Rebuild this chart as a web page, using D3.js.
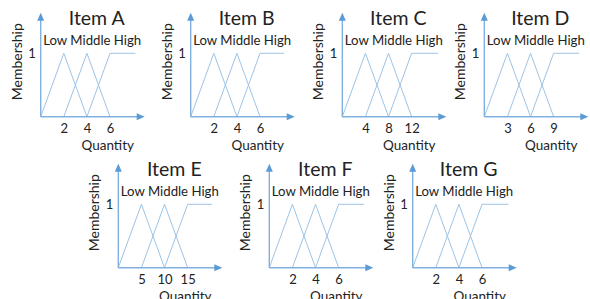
<!DOCTYPE html>
<html>
<head>
<meta charset="utf-8">
<script src="https://cdn.jsdelivr.net/npm/d3@7"></script>
<style>
    body { margin: 0; background: #fff; }
    text { font-family: Lato, "Open Sans", sans-serif; fill: #222; }
</style>
</head>
<body>
<svg id="chart" width="590" height="299"></svg>
<script>
// Chart data
const items        = ["Item A", "Item B", "Item C", "Item D", "Item E", "Item F", "Item G"];
const tickValues   = [[2, 4, 6], [2, 4, 6], [4, 8, 12], [3, 6, 9], [5, 10, 15], [2, 4, 6], [2, 4, 6]];
const plateauEnd   = [8.2, 8.1, 16.6, 12.3, 20.3, 8.2, 8.3];
const axisMax      = [9, 9, 18, 13.5, 22.5, 9, 9];
const levels       = ["Low", "Middle", "High"];
const yTickValues  = [1];
const yMax         = 1.64;

// Panel origins (where the two axes meet)
const origins = [
    [40.7, 116.7], [190.7, 116.7], [342.3, 116.7], [484.3, 116.7],
    [118.3, 267.7], [269.3, 267.7], [412.7, 267.7]
];

const axisColor  = "#80b1e0";
const arrowColor = "#5b9bd5";
const lineColor  = "#9dc3e6";

const svg = d3.select("#chart");

/**
 * Builds the membership polygons of the three levels.
 *
 * @param {Number[]} t   The three tick values
 * @param {Number}   end The end of the high plateau
 */
function memberships(t, end)
{
    return [
        [[0, 0], [t[0], 1], [t[1], 0]],
        [[t[0], 0], [t[1], 1], [t[2], 0]],
        [[t[1], 0], [t[2], 1], [end, 1]]
    ];
}

items.forEach((name, i) => {
    const [ox, oy] = origins[i];
    const g = svg.append("g").attr("transform", `translate(${ox},${oy})`);

    const x = d3.scaleLinear().domain([0, axisMax[i]]).range([0, 104]);
    const y = d3.scaleLinear().domain([0, yMax]).range([0, -104]);

    // Membership lines
    const line = d3.line().x(d => x(d[0])).y(d => y(d[1]));
    g.selectAll("path.mf")
        .data(memberships(tickValues[i], plateauEnd[i]))
        .join("path")
        .attr("class", "mf")
        .attr("d", line)
        .attr("fill", "none")
        .attr("stroke", lineColor)
        .attr("stroke-width", 1);

    // Axis lines with arrow heads
    const xEnd = x(axisMax[i]);
    const yEnd = y(yMax);
    g.append("line").attr("x1", 0).attr("y1", 0).attr("x2", xEnd - 6).attr("y2", 0)
        .attr("stroke", axisColor).attr("stroke-width", 1.4);
    g.append("line").attr("x1", 0).attr("y1", 0).attr("x2", 0).attr("y2", yEnd + 6)
        .attr("stroke", axisColor).attr("stroke-width", 1.4);
    g.append("path")
        .attr("d", `M${xEnd},0L${xEnd - 8},-3.5L${xEnd - 8},3.5Z`)
        .attr("fill", arrowColor);
    g.append("path")
        .attr("d", `M0,${yEnd}L-3.5,${yEnd + 8}L3.5,${yEnd + 8}Z`)
        .attr("fill", arrowColor);

    // Tick labels
    const xAxis = g.append("g")
        .call(d3.axisBottom(x).tickValues(tickValues[i]).tickSize(0).tickPadding(7));
    xAxis.select(".domain").remove();
    xAxis.selectAll("text").attr("font-size", 13).attr("fill", "#222")
        .attr("font-family", "Lato, sans-serif");

    const yAxis = g.append("g")
        .call(d3.axisLeft(y).tickValues(yTickValues).tickFormat(d3.format("d")).tickSize(0).tickPadding(5));
    yAxis.select(".domain").remove();
    yAxis.selectAll("text").attr("font-size", 13).attr("fill", "#222")
        .attr("font-family", "Lato, sans-serif");

    // Titles and labels
    g.append("text")
        .attr("x", 56).attr("y", -91.5)
        .attr("text-anchor", "middle")
        .attr("font-size", 19.5)
        .text(name);

    g.append("text")
        .attr("x", 2.5).attr("y", -71.5)
        .attr("font-size", 13.2)
        .text(levels.join(" "));

    g.append("text")
        .attr("transform", "translate(-19,-55) rotate(-90)")
        .attr("text-anchor", "middle")
        .attr("font-size", 14)
        .text("Membership");

    g.append("text")
        .attr("x", 67).attr("y", 33)
        .attr("text-anchor", "middle")
        .attr("font-size", 13.5)
        .text("Quantity");
});
</script>
</body>
</html>
